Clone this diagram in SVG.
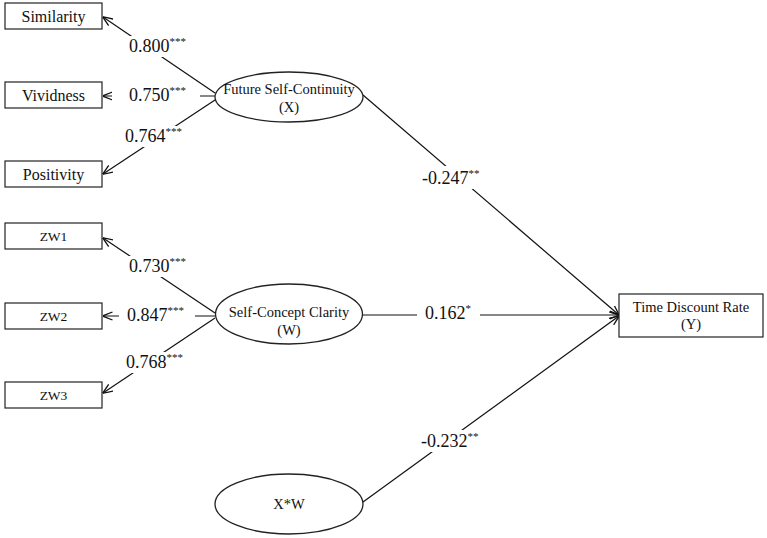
<svg xmlns="http://www.w3.org/2000/svg" width="767" height="538" viewBox="0 0 767 538">
<style>
.box{fill:#fff;stroke:#222;stroke-width:1.2}
.ell{fill:#fff;stroke:#222;stroke-width:1.3}
.lbl{font-family:"Liberation Serif","Times New Roman",serif;fill:#111}
.num{font-family:"Liberation Serif","Times New Roman",serif;font-size:18px;fill:#111}
.sup{font-size:11px}
.bg{fill:#fff;stroke:none}
.ln{stroke:#111;stroke-width:1.2;fill:none}
</style>
<defs>
<marker id="arr" viewBox="0 0 10 10" refX="9.5" refY="5" markerWidth="10" markerHeight="10" markerUnits="userSpaceOnUse" orient="auto">
<path d="M0,1 L10,5 L0,9" fill="none" stroke="#111" stroke-width="1.3"/>
</marker>
</defs>
<rect width="767" height="538" fill="#fff"/>
<g id="connectors">
<line class="ln" x1="215" y1="93" x2="103" y2="17" marker-end="url(#arr)"/>
<line class="ln" x1="215" y1="96" x2="103" y2="96" marker-end="url(#arr)"/>
<line class="ln" x1="215" y1="100" x2="103" y2="174" marker-end="url(#arr)"/>
<line class="ln" x1="215" y1="313" x2="103" y2="238" marker-end="url(#arr)"/>
<line class="ln" x1="215" y1="316" x2="103" y2="316" marker-end="url(#arr)"/>
<line class="ln" x1="215" y1="318" x2="103" y2="393" marker-end="url(#arr)"/>
<line class="ln" x1="363" y1="95" x2="619" y2="315" marker-end="url(#arr)"/>
<line class="ln" x1="362" y1="315" x2="619" y2="315" marker-end="url(#arr)"/>
<line class="ln" x1="363" y1="502" x2="619" y2="316" marker-end="url(#arr)"/>
<rect class="bg" x="125" y="36" width="70" height="21"/>
<rect class="bg" x="112" y="86" width="88" height="20"/>
<rect class="bg" x="121" y="126" width="70" height="21"/>
<rect class="bg" x="125" y="256" width="70" height="21"/>
<rect class="bg" x="119" y="305" width="76" height="21"/>
<rect class="bg" x="122" y="352" width="70" height="21"/>
<rect class="bg" x="418" y="166" width="74" height="23"/>
<rect class="bg" x="417" y="304" width="63" height="20"/>
<rect class="bg" x="418" y="430" width="70" height="22"/>
<text class="num" x="129" y="52">0.800<tspan class="sup" dy="-7">***</tspan></text>
<text class="num" x="129" y="101">0.750<tspan class="sup" dy="-7">***</tspan></text>
<text class="num" x="125" y="142">0.764<tspan class="sup" dy="-7">***</tspan></text>
<text class="num" x="129" y="272">0.730<tspan class="sup" dy="-7">***</tspan></text>
<text class="num" x="127" y="321">0.847<tspan class="sup" dy="-7">***</tspan></text>
<text class="num" x="126" y="368">0.768<tspan class="sup" dy="-7">***</tspan></text>
<text class="num" x="422" y="184">-0.247<tspan class="sup" dy="-7">**</tspan></text>
<text class="num" x="425" y="319">0.162<tspan class="sup" dy="-7">*</tspan></text>
<text class="num" x="421" y="447">-0.232<tspan class="sup" dy="-7">**</tspan></text>
</g>
<g id="similarity"><rect class="box" x="5" y="3" width="97" height="26"/><text class="lbl" x="53.5" y="22" font-size="16" text-anchor="middle">Similarity</text></g>
<g id="vividness"><rect class="box" x="5" y="82" width="97" height="26"/><text class="lbl" x="53.5" y="101" font-size="16" text-anchor="middle">Vividness</text></g>
<g id="positivity"><rect class="box" x="5" y="161" width="97" height="26"/><text class="lbl" x="53.5" y="180" font-size="16" text-anchor="middle">Positivity</text></g>
<g id="zw1"><rect class="box" x="5" y="223" width="97" height="26"/><text class="lbl" x="53.5" y="241" font-size="13.5" text-anchor="middle">ZW1</text></g>
<g id="zw2"><rect class="box" x="5" y="303" width="97" height="26"/><text class="lbl" x="53.5" y="321" font-size="13.5" text-anchor="middle">ZW2</text></g>
<g id="zw3"><rect class="box" x="5" y="382" width="97" height="26"/><text class="lbl" x="53.5" y="400" font-size="13.5" text-anchor="middle">ZW3</text></g>
<g id="fsc"><ellipse class="ell" cx="289" cy="97" rx="74" ry="25"/><text class="lbl" font-size="14.5" text-anchor="middle"><tspan x="289" y="94">Future Self-Continuity</tspan><tspan x="289" y="112">(X)</tspan></text></g>
<g id="scc"><ellipse class="ell" cx="289" cy="314" rx="73.5" ry="30"/><text class="lbl" font-size="14.5" text-anchor="middle"><tspan x="289" y="317">Self-Concept Clarity</tspan><tspan x="289" y="335">(W)</tspan></text></g>
<g id="xw"><ellipse class="ell" cx="289" cy="504" rx="74" ry="30"/><text class="lbl" x="289" y="509" font-size="14.5" text-anchor="middle">X*W</text></g>
<g id="tdr"><rect class="box" x="619" y="294" width="144" height="43"/><text class="lbl" font-size="14.5" text-anchor="middle"><tspan x="691" y="312">Time Discount Rate</tspan><tspan x="691" y="329">(Y)</tspan></text></g>
</svg>
